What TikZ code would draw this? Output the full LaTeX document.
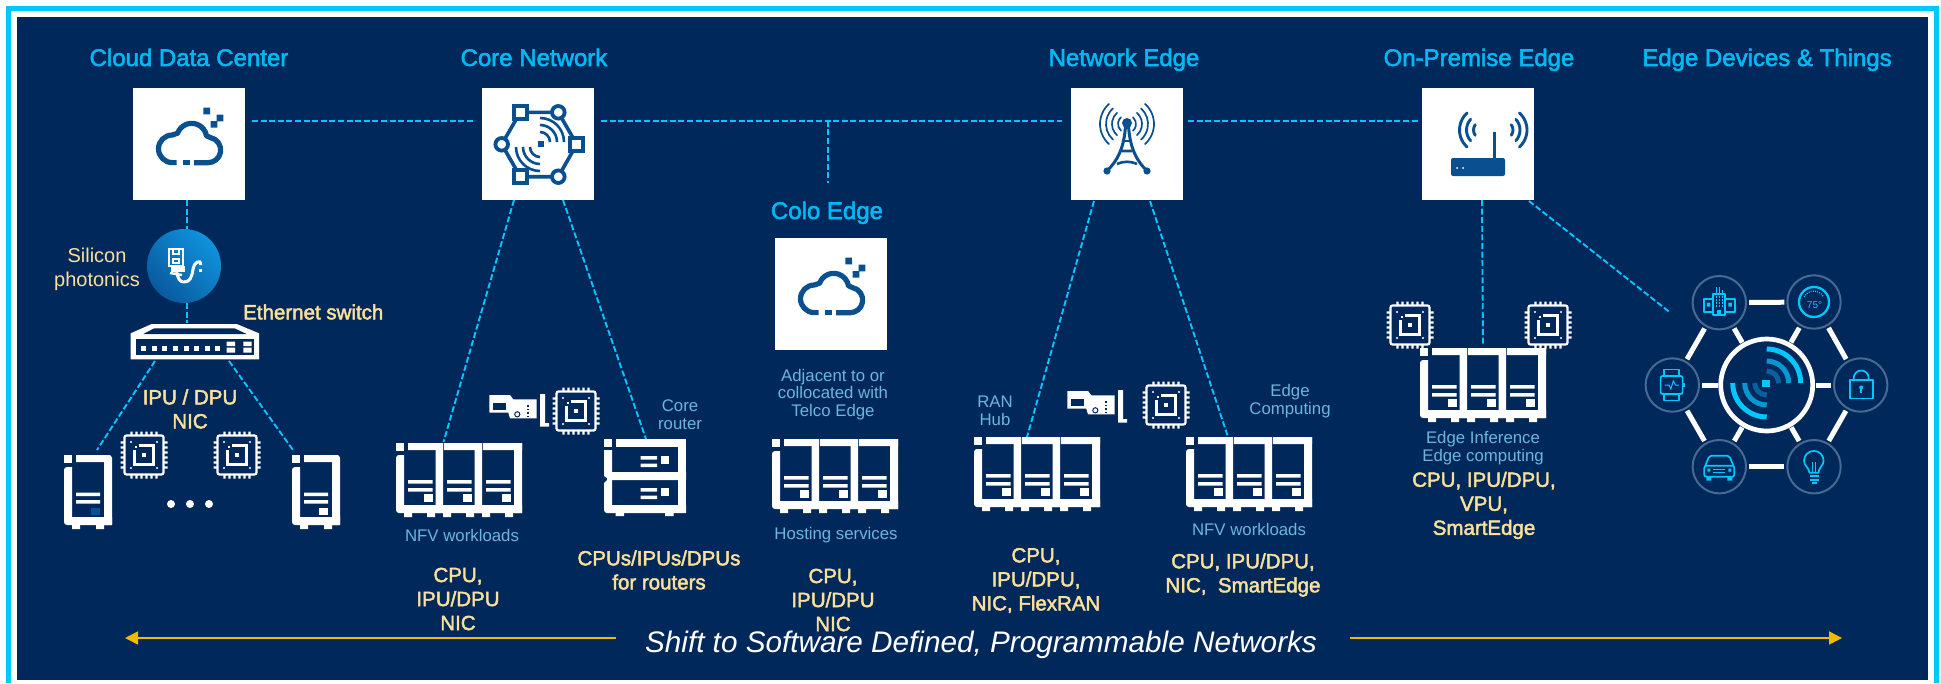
\documentclass[tikz,border=0pt]{standalone}
\usepackage{fontspec}
\setmainfont{Liberation Sans}
\newfontfamily\medfont[RawFeature={embolden=2.2}]{Liberation Sans}
\usetikzlibrary{arrows.meta,calc,shapes.geometric}
\definecolor{navy}{HTML}{00285A}
\definecolor{frame}{HTML}{00C7FD}
\definecolor{titlec}{HTML}{00B9F2}
\definecolor{cream}{HTML}{FBE09A}
\definecolor{lightb}{HTML}{6DB6D9}
\definecolor{iconb}{HTML}{0A4F8F}
\definecolor{gold}{HTML}{F5B800}
\definecolor{hubring}{HTML}{476A93}
\definecolor{photA}{HTML}{0F92DC}
\definecolor{photB}{HTML}{0A5A9E}
\tikzset{
  x=1pt,y=-1pt,
  whitebox/.style={fill=white,minimum width=112pt,minimum height=112pt,inner sep=0pt,outer sep=0pt},
  holder/.style={inner sep=0pt,outer sep=0pt,minimum width=#1,anchor=north west},
  title/.style={text=titlec,font=\medfont\fontsize{24}{26}\selectfont,inner sep=0pt,anchor=base},
  spec/.style={text=cream,font=\medfont\fontsize{20.5}{24}\selectfont,align=center,inner sep=0pt},
  note/.style={text=lightb,font=\fontsize{16.8}{17.6}\selectfont,align=center,inner sep=0pt},
  link/.style={frame,line width=1.9pt,dash pattern=on 6pt off 2.6pt},
  sat/.style={circle,draw=hubring,line width=2pt,minimum size=53.4pt,inner sep=0pt,outer sep=0pt},
  spoke/.style={white,line width=5pt,shorten >=3pt,shorten <=3pt},
  hubline/.style={frame,line width=1.7pt,line join=round},
  pics/srvone/.style={code={
    \fill[white] (0,0) rectangle (8,8);
    \fill[white] (12,0) -- (46,0) [rounded corners=1pt] -- (48,2) -- (48,70) [sharp corners] -- (40,70) -- (40,7) -- (12,7) -- cycle;
    \fill[white] (0,12) -- (8,12) -- (8,62) -- (48,62) -- (48,70) [rounded corners=3pt] -- (0,70) -- cycle;
    \fill[white] (8,70) rectangle (16,74) (32,70) rectangle (40,74);
    \fill[white] (12,37.5) rectangle (36,41) (12,45) rectangle (36,48.5);
    \fill[#1] (27,53) rectangle (36,60);
  }},
  pics/srvthree/.style={code={
    \fill[white] (0,0) rectangle (8,8);
    \fill[white] (12,0) rectangle (47,7) (48,0) rectangle (86,7) (87,0) rectangle (126,7);
    \fill[white] (39.5,0) rectangle (47,70) (78.5,0) rectangle (86,70) (118,0) rectangle (126,70);
    \fill[white] (0,12) -- (8,12) -- (8,62) -- (126,62) -- (126,70) [rounded corners=3pt] -- (0,70) -- cycle;
    \foreach \o in {0,39,78}{
      \fill[white] (12+\o,37) rectangle (36.5+\o,40.5) (12+\o,45) rectangle (36.5+\o,48.5);
      \fill[white] (27.5+\o,51) rectangle (36.5+\o,59);
      \fill[white] (8+\o,70) rectangle (16+\o,74) (31+\o,70) rectangle (39+\o,74);
    }
  }},
  pics/routerico/.style={code={
    \fill[white] (0,0) rectangle (8,8);
    \fill[white] (11.5,0) rectangle (82,8);
    \fill[white] (73.5,0) rectangle (82,74);
    \fill[white] (0,11) -- (8,11) -- (8,33) -- (82,33) -- (82,41) -- (8,41) -- (8,66) -- (82,66) -- (82,74) [rounded corners=3pt] -- (0,74) [sharp corners] -- (0,44) -- (3,41) -- (3,39) -- (0,37) -- cycle;
    \fill[white] (11.5,74) rectangle (20,77) (61,74) rectangle (69.5,77);
    \foreach \o in {0,32}{
      \fill[white] (36.5,17+\o) rectangle (53,20.5+\o) (36.5,24.5+\o) rectangle (53,28+\o);
      \fill[white] (57,17+\o) rectangle (65,24.5+\o);
    }
  }},
  pics/chipico/.style={code={
    \draw[white,line width=2.2pt,rounded corners=2pt] (-19.5,-19.5) rectangle (19.5,19.5);
    \foreach \p in {-12.5,-7.5,-2.5,2.5,7.5,12.5}{
      \fill[white] (\p-1.1,-23.5) rectangle (\p+1.1,-19.5) (\p-1.1,19.5) rectangle (\p+1.1,23.5);
      \fill[white] (-23.5,\p-1.1) rectangle (-19.5,\p+1.1) (19.5,\p-1.1) rectangle (23.5,\p+1.1);
    }
    \foreach \a/\b in {-13/-13,13/-13,-13/13,13/13}{\fill[white] (\a,\b) circle (1.1);}
    \draw[white,line width=2.2pt] (-5,-9.5) -- (9.5,-9.5) -- (9.5,9.5) -- (-9.5,9.5) -- (-9.5,-5);
    \fill[white] (-9.5,-9.5) rectangle (-7.5,-7.5);
    \fill[white] (-2,-2) rectangle (2,2);
  }},
  pics/cardico/.style={code={
    \fill[white] (0.3,2) -- (21,2) -- (24.3,6.3) -- (47.7,6.3) -- (47.7,25.3) -- (21,25.3) -- (19.3,19.7) -- (0.3,19.7) -- cycle;
    \fill[navy] (4.3,9.7) rectangle (17,17);
    \draw[navy,line width=1pt] (28.3,21.3) circle (2.6);
    \foreach \d in {12,15.5,19,22.5}{\fill[navy] (37.5,\d) rectangle (40,\d+1.8);}
    \fill[white] (51,1) rectangle (56,31) (51,30) rectangle (60,33.5);
  }},
  pics/cloudico/.style={code={
    \draw[iconb,line width=5.2pt,line cap=butt,line join=round] (-12.3,18.6) -- (-16.7,18.6)
      arc[start angle=90,end angle=270,radius=13.8] -- (-11.4,-10.8)
      arc[start angle=200,end angle=350,radius=15] -- (21.2,-6.5)
      arc[start angle=280,end angle=450,radius=12.7] -- (5,18.7);
    \fill[iconb] (-6.5,15.6) rectangle (0.5,21.3);
    \fill[iconb] (14.4,-36.3) rectangle (21,-29.7) (27.7,-29.3) rectangle (34.3,-22.7) (21.7,-23) rectangle (28.3,-16.4);
  }},
  pics/coreico/.style={code={
    \draw[iconb,line width=3.6pt,line join=round] (-17.7,-31.7) -- (20.3,-31.7) -- (38.7,0.3) -- (20.3,32.7) -- (-17.7,32.7) -- (-36.3,0.3) -- cycle;
    \foreach \a/\b in {-17.7/-31.7,38.7/0.3,-17.7/32.7}{\fill[white] (\a-6.5,\b-6.5) rectangle (\a+6.5,\b+6.5); \draw[iconb,line width=3.8pt] (\a-6.5,\b-6.5) rectangle (\a+6.5,\b+6.5);}
    \foreach \a/\b in {20.3/-31.7,20.3/32.7,-36.3/0.3}{\draw[iconb,line width=3.8pt,fill=white] (\a,\b) circle (6.3);}
    \fill[iconb] (-0.5,-2.7) rectangle (5.5,3.3);
    \foreach \r in {10,17,24}{
      \draw[iconb,line width=2.6pt] (2,-2)+(270:\r) arc[start angle=270,end angle=360,radius=\r];
      \draw[iconb,line width=2.6pt] (2,3)+(90:\r) arc[start angle=90,end angle=180,radius=\r];
    }
  }},
  pics/towerico/.style={code={
    \foreach \r in {9,15,21,27}{
      \draw[iconb,line width=1.7pt,line cap=round] (0,-20)+(312:\r) arc[start angle=312,end angle=408,radius=\r];
      \draw[iconb,line width=1.7pt,line cap=round] (0,-20)+(132:\r) arc[start angle=132,end angle=228,radius=\r];
    }
    \fill[iconb] (0,-21) circle (5);
    \draw[iconb,line width=3pt] (-1.5,-18) .. controls (-3,5) and (-10,17) .. (-20,27);
    \draw[iconb,line width=3pt] (1.5,-18) .. controls (3,5) and (10,17) .. (20,27);
    \draw[iconb,line width=2.6pt] (-5,7) -- (5,7) (-10,20) .. controls (-3,17) and (3,17) .. (10,20);
    \draw[iconb,line width=1.8pt] (-3,-3) -- (3,-3);
    \fill[iconb] (-20,27) circle (3.6) (20,27) circle (3.6);
  }},
  pics/wifiico/.style={code={
    \fill[iconb,rounded corners=2pt] (-27,14) rectangle (27,32);
    \fill[white] (-21,24) circle (1) (-15,24) circle (1);
    \draw[iconb,line width=3.4pt] (16.5,-12) -- (16.5,15);
    \foreach \r/\s in {23/48,16/42,9/36}{
      \draw[iconb,line width=2.9pt,line cap=round] (4.5,-14)+(180-\s:\r) arc[start angle=180-\s,end angle=180+\s,radius=\r];
      \draw[iconb,line width=2.9pt,line cap=round] (26,-14)+(-\s:\r) arc[start angle=-\s,end angle=\s,radius=\r];
    }
  }}
}
\begin{document}
\begin{tikzpicture}
\useasboundingbox (0,0) rectangle (1941,683);
\fill[white] (0,0) rectangle (1941,683);
\fill[frame] (6,6) rectangle (1939,683);
\fill[white] (11,11) rectangle (1934,683);
\fill[navy] (17,17) rectangle (1928,680);

% boxes
\node[whitebox] (cloud) at (189,144) {};
\node[whitebox] (core) at (538,144) {};
\node[whitebox] (colo) at (831,294) {};
\node[whitebox] (netedge) at (1127,144) {};
\node[whitebox] (onprem) at (1478,144) {};
\pic at (cloud.center) {cloudico};
\pic at (core.center) {coreico};
\pic at (colo.center) {cloudico};
\pic at (netedge.center) {towerico};
\pic at (onprem.center) {wifiico};

% titles
\node[title] (t1) at (189,66) {Cloud Data Center};
\node[title] (t2) at (534,66) {Core Network};
\node[title] (t3) at (1124,66) {Network Edge};
\node[title] (t4) at (1479,66) {On-Premise Edge};
\node[title] (t5) at (1767,66) {Edge Devices \& Things};
\node[title] (t6) at (827,219) {Colo Edge};

% photonic + switch
\node[circle,minimum size=74pt,inner sep=0pt,outer sep=0pt,left color=photA,right color=photB,shading angle=-45] (phot) at (184,266) {};
\begin{scope}[shift={(140,225)}]
 \draw[white,line width=2.2pt] (29,24) rectangle (43,41);
 \draw[white,line width=1.5pt] (33,24) -- (33,29) -- (39,29) -- (39,24);
 \draw[white,line width=1.8pt] (33,34) rectangle (39,38);
 \fill[white] (31,41) rectangle (45,47);
 \draw[white,line width=3pt] (36.7,47) .. controls (38,54) and (40,57) .. (44,57) .. controls (50,57) and (52,52) .. (53,44) .. controls (53.5,38) and (60.7,33) .. (60.7,40);
 \draw[white,line width=3pt] (60.7,43.5) -- (60.7,47);
 \draw[white,line width=2.4pt] (30,48) -- (42,50);
\end{scope}
\node[inner sep=0pt,outer sep=0pt,minimum width=129pt,minimum height=38pt] (swt) at (194.5,341) {};
\fill[white] (130.7,333.3) -- (151.7,324) -- (236.7,324) -- (259,333.3) -- (259,359.3) -- (130.7,359.3) -- cycle;
\fill[navy] (143.3,334) -- (154.3,328.3) -- (234.3,328.3) -- (246.7,334) -- cycle;
\fill[navy] (135.7,339.3) rectangle (254.3,355);
\foreach \i in {0,...,7}{\fill[white] (141.2+10.6*\i,345.5) rectangle (146.2+10.6*\i,350.5);}
\fill[white] (226.7,341.7) rectangle (235,346) (226.7,347.7) rectangle (235,352.7) (243.3,341.7) rectangle (251.7,346) (243.3,347.7) rectangle (251.7,352.7);

% servers
\node[holder=48pt,minimum height=74pt] (srvL) at (64,455) {};
\node[holder=48pt,minimum height=74pt] (srvR) at (292,455) {};
\pic at (srvL.north west) {srvone=iconb};
\pic at (srvR.north west) {srvone=white};
\node[holder=126pt,minimum height=74pt] (nfvA) at (396,443) {};
\node[holder=82pt,minimum height=77pt] (rtr) at (604,439) {};
\node[holder=126pt,minimum height=74pt] (host) at (772,439) {};
\node[holder=126pt,minimum height=74pt] (ran) at (974,437) {};
\node[holder=126pt,minimum height=74pt] (nfvB) at (1186,437) {};
\node[holder=126pt,minimum height=74pt] (inf) at (1420,348) {};
\pic at (nfvA.north west) {srvthree};
\pic at (rtr.north west) {routerico};
\pic at (host.north west) {srvthree};
\pic at (ran.north west) {srvthree};
\pic at (nfvB.north west) {srvthree};
\pic at (inf.north west) {srvthree};

% chips and cards
\pic at (144,455) {chipico};
\pic at (237,455) {chipico};
\pic at (576,411) {chipico};
\pic at (1166,405) {chipico};
\pic at (1410,325) {chipico};
\pic at (1548,325) {chipico};
\pic at (489,393) {cardico};
\pic at (1067,389) {cardico};
\fill[white] (171,504) circle (4) (190,504) circle (4) (209,504) circle (4);

% hub
\node[circle,draw=white,line width=4.7pt,minimum size=92pt,inner sep=0pt,outer sep=0pt] (hubc) at (1766.7,385) {};
\node[sat] (satB) at (1719.3,302.7) {};
\node[sat] (satG) at (1814,302) {};
\node[sat] (satW) at (1672.3,385) {};
\node[sat] (satK) at (1860.7,385) {};
\node[sat] (satC) at (1719.3,466.7) {};
\node[sat] (satI) at (1814,466.7) {};
\draw[spoke] (satB) -- (satG);
\draw[spoke] (satC) -- (satI);
\draw[spoke] (satB) -- (satW);
\draw[spoke] (satW) -- (satC);
\draw[spoke] (satG) -- (satK);
\draw[spoke] (satK) -- (satI);
\draw[spoke] (satB) -- (hubc);
\draw[spoke] (satG) -- (hubc);
\draw[spoke] (satW) -- (hubc);
\draw[spoke] (satK) -- (hubc);
\draw[spoke] (satC) -- (hubc);
\draw[spoke] (satI) -- (hubc);
% radar
\begin{scope}[shift={(hubc.center)}]
 \fill[frame] (-4.5,-5.5) rectangle (3,2);
 \foreach \r/\c/\w in {34/frame/5,22/frame!60!iconb/5,12/iconb!85!frame/5}{
  \draw[\c,line width=\w pt] (0,-2)+(270:\r) arc[start angle=270,end angle=360,radius=\r];
  \draw[\c,line width=\w pt] (0,-2)+(90:\r) arc[start angle=90,end angle=180,radius=\r];
 }
\end{scope}
% building
\begin{scope}[shift={(satB.center)}]
 \draw[hubline] (-6,12) -- (-6,-9) -- (5.7,-9) -- (5.7,12) -- cycle;
 \draw[hubline] (-6,-4) -- (-15.5,-4) -- (-15.5,9) -- (-6,9);
 \draw[hubline] (5.7,-4) -- (15.5,-4) -- (15.5,9) -- (5.7,9);
 \draw[hubline,line width=1pt] (-3,-9) -- (-3,-16) (0,-9) -- (0,-16) (3,-9) -- (3,-13);
 \foreach \a in {-3,0,3}{\foreach \b in {-6,-3,0,3}{\fill[frame] (\a-.8,\b-.8) rectangle (\a+.8,\b+.8);}}
 \fill[frame] (-2,7) rectangle (2,12);
 \fill[frame] (-12.5,0) rectangle (-9,4) (9,0) rectangle (12.5,4);
\end{scope}
% gauge
\begin{scope}[shift={(satG.center)}]
 \draw[frame,line width=2.3pt] (0,0) circle (15);
 \draw[frame,line width=1.3pt,dash pattern=on 1pt off 1.2pt] (-10,-5) arc[start angle=207,end angle=333,radius=11];
 \node[text=frame,font=\fontsize{10}{10}\selectfont,inner sep=0pt] (gval) at (0.5,3.5) {75°};
\end{scope}
% watch
\begin{scope}[shift={(satW.center)}]
 \draw[hubline,rounded corners=2pt] (-11.7,-9) rectangle (10.3,9);
 \draw[hubline] (-8,-9) -- (-8,-15.5) -- (7,-15.5) -- (7,-9) (-8,9) -- (-8,15.5) -- (7,15.5) -- (7,9);
 \fill[frame] (10.5,-2) rectangle (12.5,2);
 \draw[frame,line width=1pt] (-7.5,0) -- (-3.5,0) -- (-1.5,4) -- (1,-4) -- (3,0) -- (6.5,0);
\end{scope}
% lock
\begin{scope}[shift={(satK.center)}]
 \draw[hubline] (-11,-5) rectangle (12,13.5);
 \draw[hubline] (-7,-5) -- (-7,-7) arc[start angle=180,end angle=360,radius=7.5] -- (8,-5);
 \fill[frame] (0.5,2.5) circle (2);
 \fill[frame] (-0.3,3) rectangle (1.3,8);
\end{scope}
% car
\begin{scope}[shift={(satC.center)}]
 \draw[hubline,rounded corners=2pt] (-14,-1) -- (-10,-11) -- (10,-11) -- (14,-1);
 \draw[hubline,rounded corners=2pt] (-15,-1) -- (15,-1) -- (15,10) -- (-15,10) -- cycle;
 \fill[frame] (-13,10) rectangle (-8,14) (8,10) rectangle (13,14);
 \draw[frame,line width=1pt] (-6,3) -- (6,3) (-6,6) -- (6,6);
 \fill[frame] (-12,2) rectangle (-9,5) (9,2) rectangle (12,5);
\end{scope}
% bulb
\begin{scope}[shift={(satI.center)}]
 \draw[hubline] (-4.5,6) .. controls (-5,1) and (-10,-1) .. (-10,-6) arc[start angle=180,end angle=360,radius=9.8] .. controls (9.6,-1) and (4.5,1) .. (4.5,6) -- cycle;
 \draw[frame,line width=1pt] (-1.5,6) -- (-1.5,-5) (1.5,6) -- (1.5,-5);
 \draw[hubline] (-4.5,9.5) -- (4.5,9.5) (-4.5,13) -- (4.5,13);
 \draw[hubline] (-2.5,16) -- (2.5,16);
\end{scope}

% dashed connectors
\draw[link] ([shift={(7,-23)}]cloud.east) -- ([shift={(-7,-23)}]core.west);
\draw[link] ([shift={(7,-23.3)}]core.east) -- ([shift={(-9,-23.3)}]netedge.west);
\coordinate (tee) at (828,120.7);
\coordinate (teeend) at (828,183);
\draw[link] (tee) -- (teeend);
\draw[link] ([shift={(5,-23)}]netedge.east) -- ([shift={(-3,-23)}]onprem.west);
\draw[link] ([shift={(-2,0)}]cloud.south) -- ([shift={(3,0)}]phot.north);
\draw[link] ([shift={(3,0)}]phot.south) -- ([shift={(-7.5,1)}]swt.north);
\draw[link] ([shift={(-39.5,1)}]swt.south) -- ([shift={(9,-5)}]srvL.north);
\draw[link] ([shift={(34.5,1)}]swt.south) -- ([shift={(-23,-5)}]srvR.north);
\draw[link] ([shift={(-24,0)}]core.south) -- ([shift={(-15.5,-1)}]nfvA.north);
\draw[link] ([shift={(25,0)}]core.south) -- ([shift={(1,0)}]rtr.north);
\draw[link] ([shift={(-33,1)}]netedge.south) -- ([shift={(-10,0)}]ran.north);
\draw[link] ([shift={(23,1)}]netedge.south) -- ([shift={(-21,0)}]nfvB.north);
\draw[link] ([shift={(4,0)}]onprem.south) -- ([shift={(0,-2)}]inf.north);
\draw[link] ([shift={(51,1)}]onprem.south) -- ([shift={(-49,10)}]satB.center);

% texts
\node[text=cream,font=\fontsize{20}{24}\selectfont,align=center,inner sep=0pt] (lsil) at (97,269.5) {Silicon\\photonics};
\node[spec,anchor=west] (leth) at (243,312) {Ethernet switch};
\node[spec] (lipu) at (190,409) {IPU / DPU\\NIC};
\node[note] (n1) at (462,535) {NFV workloads};
\node[note] (n2) at (680,415) {Core\\router};
\node[note] (n3) at (833,394.5) {Adjacent to or\\collocated with\\Telco Edge};
\node[note] (n4) at (836,535) {Hosting services};
\node[note] (n5) at (995,411) {RAN\\Hub};
\node[note] (n6) at (1290,401) {Edge\\Computing};
\node[note] (n7) at (1249,529) {NFV workloads};
\node[note] (n8) at (1483,448) {Edge Inference\\Edge computing};
\node[spec] (s1) at (458,599) {CPU,\\IPU/DPU\\NIC};
\node[spec] (s2) at (659,570) {CPUs/IPUs/DPUs\\for routers};
\node[spec] (s3) at (833,600) {CPU,\\IPU/DPU\\NIC};
\node[spec] (s4) at (1036,580.5) {CPU,\\IPU/DPU,\\NIC, FlexRAN};
\node[spec] (s5) at (1243,575) {CPU, IPU/DPU,\\NIC,\ \ SmartEdge};
\node[spec] (s6) at (1484,505.5) {CPU, IPU/DPU,\\VPU,\\SmartEdge};
\node[text=white,font=\itshape\fontsize{29.7}{32}\selectfont,inner sep=0pt,anchor=base] (shift) at (981,652) {Shift to Software Defined, Programmable Networks};

% arrows
\coordinate (al0) at (616,638);
\coordinate (al1) at (125,638);
\coordinate (ar0) at (1350,638);
\coordinate (ar1) at (1842,638);
\draw[gold,line width=1.5pt,-{Triangle[length=13pt,width=13pt]}] (al0) -- (al1);
\draw[gold,line width=1.5pt,-{Triangle[length=13pt,width=13pt]}] (ar0) -- (ar1);
\end{tikzpicture}
\end{document}
